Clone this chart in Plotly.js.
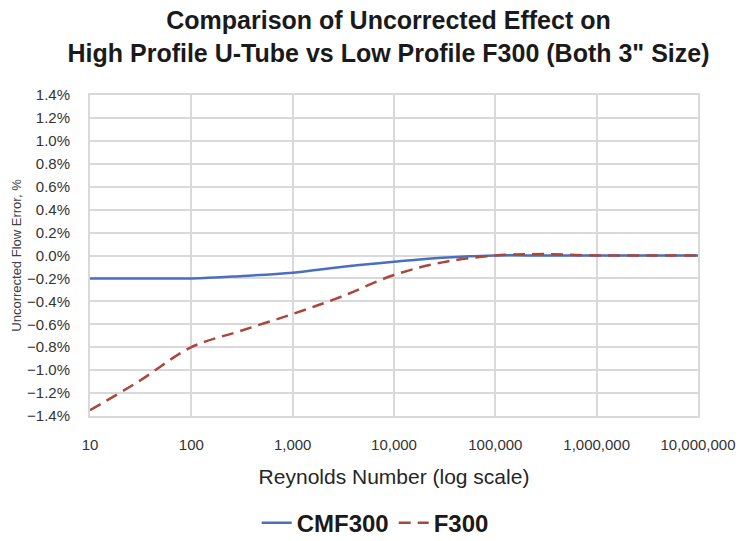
<!DOCTYPE html>
<html>
<head>
<meta charset="utf-8">
<script src="https://cdn.plot.ly/plotly-3.0.1.min.js"></script>
<style>html,body{margin:0;padding:0;background:#fff;}#chart{width:740px;height:541px;}</style>
</head>
<body>
<div id="chart"></div>
<script>
const reynolds = [10, 30, 100, 300, 1000, 3000, 10000, 30000, 100000, 300000, 1000000, 3000000, 10000000];
const cmf300 = [-0.0020, -0.0020, -0.0020, -0.0018, -0.0015, -0.0010, -0.00055, -0.00020, 0.0, 0.0, 0.0, 0.0, 0.0];
const f300 = [-0.0135, -0.0110, -0.0080, -0.0066, -0.0051, -0.0036, -0.0017, -0.0006, 0.0, 0.00012, 0.0, 0.0, 0.0];
const yTicks = [-0.014, -0.012, -0.010, -0.008, -0.006, -0.004, -0.002, 0, 0.002, 0.004, 0.006, 0.008, 0.010, 0.012, 0.014];
const xTicks = [10, 100, 1000, 10000, 100000, 1000000, 10000000];
const xTickLabels = ['10', '100', '1,000', '10,000', '100,000', '1,000,000', '10,000,000'];

const traces = [
  {x: reynolds, y: cmf300, name: 'CMF300', mode: 'lines', type: 'scatter',
   line: {color: '#4a6fc0', width: 2.5, shape: 'spline', smoothing: 1.0}},
  {x: reynolds, y: f300, name: 'F300', mode: 'lines', type: 'scatter',
   line: {color: '#a9473b', width: 2.5, dash: '12px,7px', shape: 'spline', smoothing: 1.0}}
];

const layout = {
  width: 740, height: 541,
  margin: {l: 90, r: 42, t: 95, b: 125, autoexpand: false},
  paper_bgcolor: '#fff', plot_bgcolor: '#fff',
  font: {family: 'Liberation Sans, Arial, sans-serif', color: '#404040'},
  title: {text: '<b>Comparison of Uncorrected Effect on<br>High Profile U-Tube vs Low Profile F300 (Both 3" Size)</b>',
          x: 0.525, xanchor: 'center', y: 0.946, yanchor: 'top',
          font: {size: 25, color: '#1a1a1a', family: 'Liberation Sans, Arial, sans-serif'}},
  xaxis: {type: 'log', range: [1, 7], tickvals: xTicks, ticktext: xTickLabels,
          showgrid: true, gridcolor: '#d9d9d9', gridwidth: 2,
          showline: true, linecolor: '#d9d9d9', linewidth: 2, mirror: true,
          zeroline: false, ticks: '', ticklabelstandoff: 14,
          tickfont: {size: 15, color: '#333333'},
          title: {text: 'Reynolds Number (log scale)', font: {size: 21, color: '#262626'}, standoff: 17}},
  yaxis: {range: [-0.014, 0.014], tickvals: yTicks, tickformat: '.1%',
          showgrid: true, gridcolor: '#d9d9d9', gridwidth: 2,
          showline: true, linecolor: '#d9d9d9', linewidth: 2, mirror: true,
          zeroline: false, ticks: '', ticklabelstandoff: 15,
          tickfont: {size: 15, color: '#333333'},
          title: {text: 'Uncorrected Flow Error, %', font: {size: 13, color: '#404040'}, standoff: 2}},
  showlegend: true,
  legend: {orientation: 'h', x: 0.507, xanchor: 'center', xref: 'container', y: 0.033, yanchor: 'middle', yref: 'container',
           font: {size: 24, color: '#1a1a1a', family: 'Liberation Sans, Arial, sans-serif', weight: 'bold'}}
};

Plotly.newPlot('chart', traces, layout, {displayModeBar: false, staticPlot: true});
</script>
</body>
</html>
